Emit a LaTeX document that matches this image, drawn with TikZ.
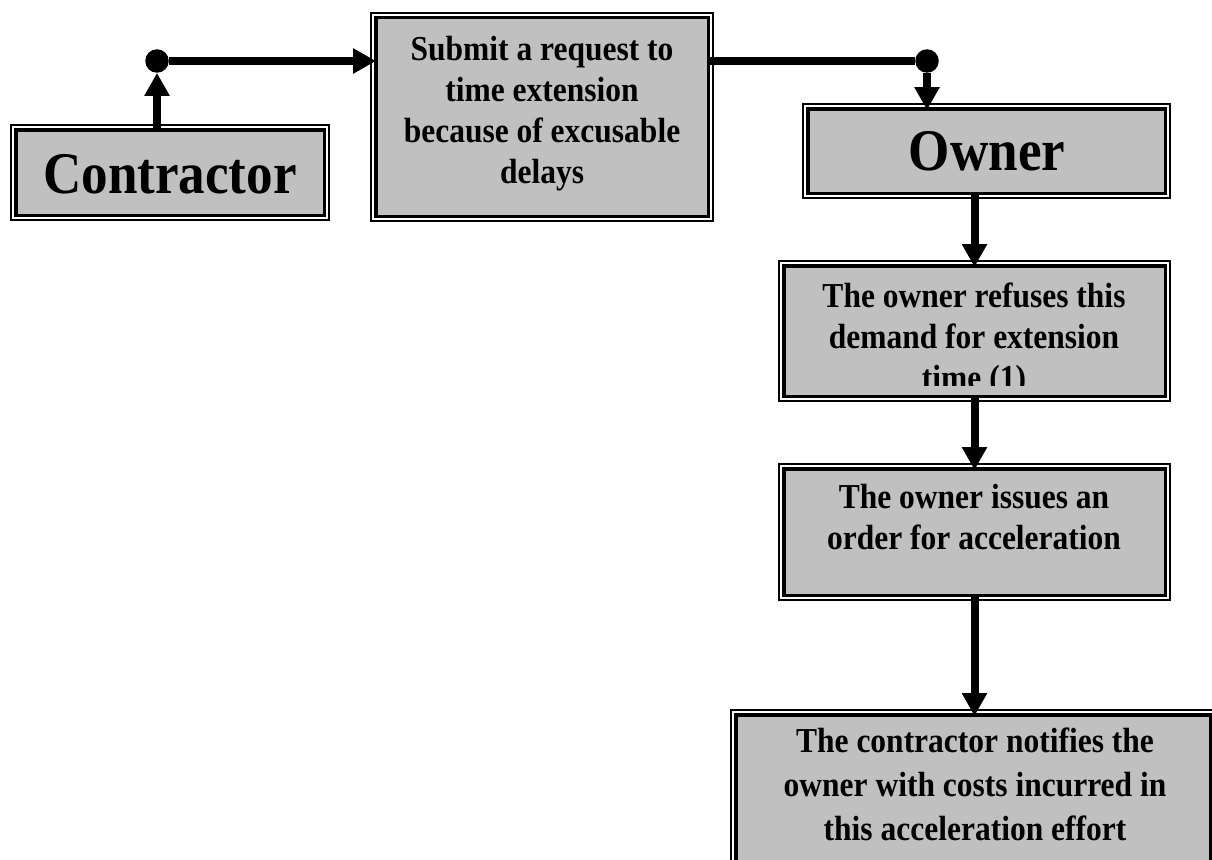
\documentclass[tikz,border=0pt]{standalone}
\usepackage{fontspec}
\newfontfamily\tnr[FakeStretch=0.9]{Liberation Serif}
\usetikzlibrary{arrows.meta}
\definecolor{boxgray}{HTML}{C0C0C0}
\begin{document}
\begin{tikzpicture}[x=1pt,y=-1pt,
  box/.style={fill=boxgray, draw=black, line width=3.5pt, inner sep=0pt,
    preaction={draw=black, line width=11.5pt},
    preaction={draw=white, line width=7.5pt}},
  big/.style={font=\tnr\bfseries\fontsize{59}{70}\selectfont, inner sep=0pt, anchor=base},
  small/.style={font=\tnr\bfseries\fontsize{35}{41}\selectfont, align=center, inner sep=0pt, anchor=base},
  conn/.style={line width=8pt, -{Triangle[length=23pt,width=24pt]}},
  dotnode/.style={circle, fill=black, inner sep=0pt, minimum size=23.5pt}]
\useasboundingbox (0,0) rectangle (1212,859);

% boxes
\node[box, minimum width=308.5pt, minimum height=85.5pt] (contractor) at (170,172.5) {};
\node[box, minimum width=332.5pt, minimum height=198.5pt] (submit) at (542,117) {};
\node[box, minimum width=357.5pt, minimum height=84.5pt] (owner) at (986.5,151) {};
\node[box, minimum width=381.5pt, minimum height=130.5pt] (refuses) at (974.5,331) {};
\node[box, minimum width=381.5pt, minimum height=126.5pt] (issues) at (974.5,532) {};
\node[box, minimum width=474.5pt, minimum height=159.5pt] (notifies) at (973,794.5) {};

% texts (anchor base = baseline of the last line)
\node[big] (tcontractor) at (170,193) {Contractor};
\node[big] (towner) at (987,170) {Owner};
\node[small] (tsubmit) at (542,183) {Submit a request to\\time extension\\because of excusable\\delays};
\begin{scope}
\clip (778,260) rectangle (1171,385.5);
\node[small] (trefuses) at (974,389) {The owner refuses this\\demand for extension\\time (1)};
\end{scope}
\node[small] (tissues) at (974,549) {The owner issues an\\order for acceleration};
\node[small, font=\tnr\bfseries\fontsize{35}{44}\selectfont] (tnotifies) at (975,840) {The contractor notifies the\\owner with costs incurred in\\this acceleration effort};

% junction dots
\node[dotnode] (dotL) at (157,61) {};
\node[dotnode] (dotR) at (927,61) {};

% connectors
\draw[conn] (dotL |- contractor.north) -- (dotL);
\draw[conn, shorten >=-2pt] (dotL) -- (dotL -| submit.west);
\draw[line width=8pt] (dotR -| submit.east) -- (dotR);
\draw[conn, shorten >=-3pt] (dotR) -- (dotR |- owner.north);
\draw[conn, shorten >=-3pt] (refuses.north |- owner.south) -- (refuses.north);
\draw[conn, shorten >=-3pt] (refuses.south) -- (issues.north);
\draw[conn, shorten >=-3pt] (issues.south) -- (issues.south |- notifies.north);
\end{tikzpicture}
\end{document}
